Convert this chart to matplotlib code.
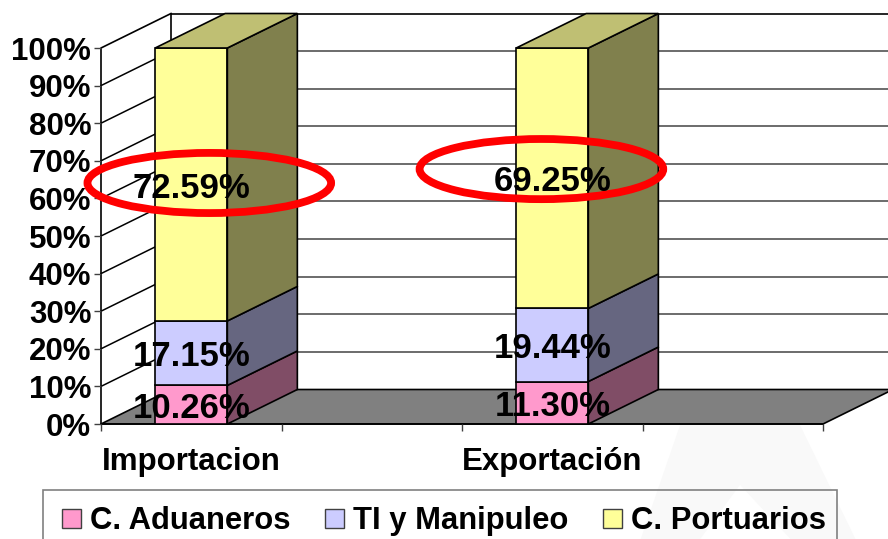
import matplotlib
matplotlib.use("Agg")
import matplotlib.pyplot as plt
from matplotlib.patches import Polygon, Ellipse, Rectangle

plt.rcParams['font.family'] = ['Liberation Sans', 'DejaVu Sans']
plt.rcParams['font.weight'] = 'bold'

# Data
categories = ['Importacion', 'Exportación']
category_slots = [0.5, 2.5]
series_names = ['C. Aduaneros', 'TI y Manipuleo', 'C. Portuarios']
aduaneros = [10.26, 11.30]
manipuleo = [17.15, 19.44]
portuarios = [72.59, 69.25]
y_ticks = [0, 10, 20, 30, 40, 50, 60, 70, 80, 90, 100]
x_ticks = [0, 1, 2, 3, 4]

front_colors = ['#FF99CC', '#CCCCFF', '#FFFF99']
top_color = '#BFBF73'
side_colors = ['#804D66', '#666680', '#80804D']
floor_color = '#808080'

# depth of the 3d box, in data units
DX = 70 / 180.5
DY = 34.5 / 3.76
BAR_W = 0.4

fig = plt.figure(figsize=(8.88, 5.39), dpi=100)
ax = fig.add_axes([101 / 888, (539 - 424) / 539, 722 / 888, 376 / 539])
ax.set_xlim(0, 4)
ax.set_ylim(0, 100)
for s in ax.spines.values():
    s.set_visible(False)
ax.patch.set_visible(False)


def add_poly(pts, fc, ec='black', lw=1.2, z=2):
    ax.add_patch(Polygon(pts, closed=True, facecolor=fc, edgecolor=ec, linewidth=lw,
                         zorder=z, clip_on=False))


# faint watermark in the bottom right corner
add_poly([(2.99, -30.6), (3.21, 0), (3.87, 0), (4.18, -30.6), (3.82, -30.6), (3.54, -16.2), (3.32, -30.6)],
         '#F9F9F9', ec='none', lw=0, z=0)

# floor, back wall and left wall
add_poly([(0, 0), (DX, DY), (4 + DX, DY), (4, 0)], floor_color, z=1)
ax.plot([DX, DX, 4 + DX], [DY, 100 + DY, 100 + DY], color='black', lw=1.2, zorder=1, clip_on=False)
ax.plot([0, 0, DX], [0, 100, 100 + DY], color='black', lw=1.2, zorder=1, clip_on=False)
for t in y_ticks[1:-1]:
    ax.plot([DX, 4 + DX], [t + DY, t + DY], color='#606060', lw=1.3, zorder=1, clip_on=False)
    ax.plot([0, DX], [t, t + DY], color='black', lw=1.1, zorder=1, clip_on=False)

# axes lines and ticks
ax.plot([0, 4], [0, 0], color='black', lw=1.2, zorder=1.5, clip_on=False)
ax.set_xticks(x_ticks)
ax.set_xticklabels([])
ax.set_yticks(y_ticks)
ax.set_yticklabels([f'{t}%' for t in y_ticks], fontsize=22.5, fontweight='bold')
ax.tick_params(axis='both', length=5, width=1, color='#404040', pad=2)
for c, s in zip(categories, category_slots):
    ax.text(s, -10.1, c, ha='center', va='center', fontsize=22.5, fontweight='bold')

# stacked 3d bars
for i, s in enumerate(category_slots):
    x0 = s - BAR_W / 2
    x1 = s + BAR_W / 2
    bottom = 0
    for vals, fc, sc in zip([aduaneros, manipuleo, portuarios], front_colors, side_colors):
        top = bottom + vals[i]
        add_poly([(x0, bottom), (x1, bottom), (x1, top), (x0, top)], fc, z=3)
        add_poly([(x1, bottom), (x1 + DX, bottom + DY), (x1 + DX, top + DY), (x1, top)], sc, z=3)
        ax.text(s, bottom + vals[i] / 2 - 1, f'{vals[i]:.2f}%', ha='center', va='center',
                fontsize=25, fontweight='bold', zorder=6)
        bottom = top
    add_poly([(x0, bottom), (x1, bottom), (x1 + DX, bottom + DY), (x0 + DX, bottom + DY)], top_color, z=3)

# red ellipses around the Portuarios share
ax.add_patch(Ellipse((0.6, 64.1), 1.35, 16.0, facecolor='none', edgecolor='#FF0000', linewidth=5.6,
                     zorder=5, clip_on=False))
ax.add_patch(Ellipse((2.44, 67.8), 1.35, 16.0, facecolor='none', edgecolor='#FF0000', linewidth=5.6,
                     zorder=5, clip_on=False))

# legend box runs off the bottom edge of the figure
ax.add_patch(Rectangle((-0.32, -40), 4.4, 22.5, facecolor='none', edgecolor='#808080', linewidth=1.2,
                       zorder=2, clip_on=False))
legend_x = [-0.215, 1.24, 2.78]
for x, name, fc in zip(legend_x, series_names, front_colors):
    ax.add_patch(Rectangle((x, -27.7), 0.105, 5.1, facecolor=fc, edgecolor='#404040', linewidth=1.0,
                           zorder=3, clip_on=False))
    ax.text(x + 0.155, -25.9, name, ha='left', va='center', fontsize=22.3, fontweight='bold', zorder=3)

fig.savefig('out.png', dpi=100)
